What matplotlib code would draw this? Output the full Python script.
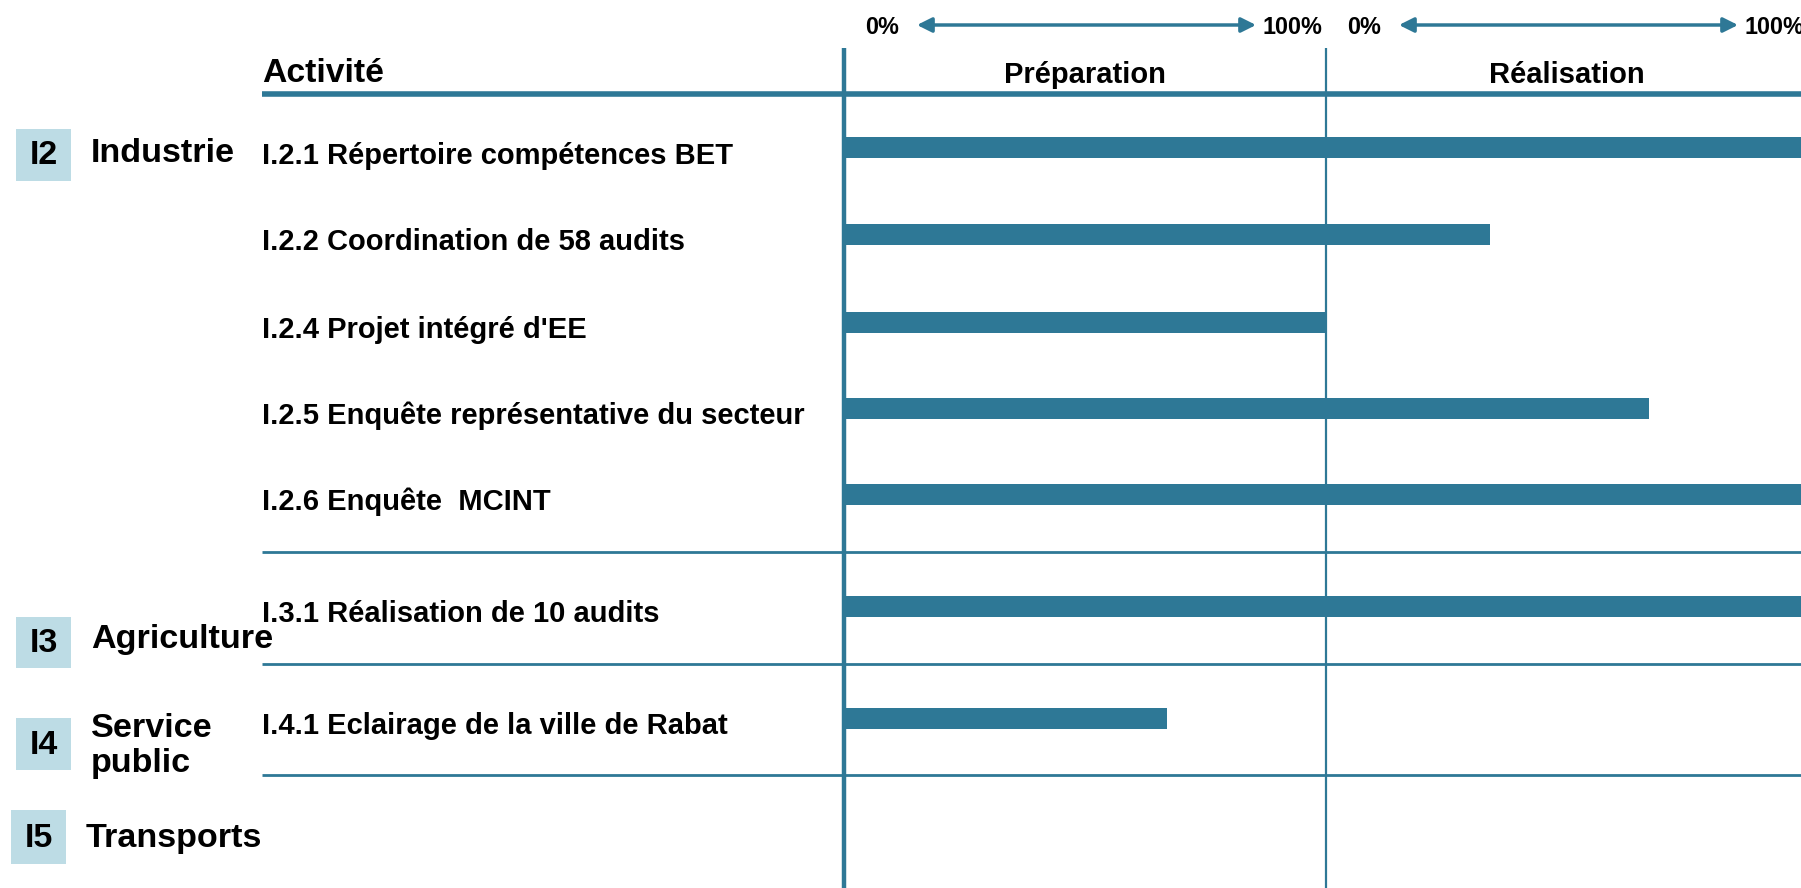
import matplotlib
matplotlib.use("Agg")
import matplotlib.pyplot as plt
from matplotlib.patches import Rectangle

# progress per activity: 0..1 = Préparation, 1..2 = Réalisation
activities = [
    "I.2.1 Répertoire compétences BET",
    "I.2.2 Coordination de 58 audits",
    "I.2.4 Projet intégré d'EE",
    "I.2.5 Enquête représentative du secteur",
    "I.2.6 Enquête  MCINT",
    "I.3.1 Réalisation de 10 audits",
    "I.4.1 Eclairage de la ville de Rabat",
]
progress = [2.0, 1.34, 1.0, 1.67, 2.0, 2.0, 0.67]

sector_codes = ["I2", "I3", "I4", "I5"]
sector_names = ["Industrie", "Agriculture", "Service\npublic", "Transports"]
phases = ["Préparation", "Réalisation"]

W, H = 1801, 888
BLUE = "#2E7896"
BOX = "#BDDCE5"
FONT = "Liberation Sans"

# layout (pixels)
x0, unit = 844, 482          # pixel of 0% and width of one phase
row_y = [148, 234, 322, 408, 494, 606, 718]
sep_y = [552, 664, 775]
sector_box_y = [(129, 181), (617, 668), (718, 770), (810, 864)]
sector_text_y = [154, 639, 746, 838]

fig = plt.figure(figsize=(W / 100, H / 100), dpi=100)
ax = fig.add_axes([0, 0, 1, 1])
ax.set_xlim(-x0 / unit, (W - x0) / unit)
ax.set_ylim(H, 0)
ax.axis("off")


def fx(px):
    return (px - x0) / unit


def ftxt(x, y, s, **kw):
    kw.setdefault("fontweight", "bold")
    kw.setdefault("family", FONT)
    kw.setdefault("color", "black")
    fig.text(x / W, 1 - y / H, s, **kw)


# bars
ax.barh(row_y, progress, left=0, height=21, color=BLUE, zorder=3)

# grid lines
ax.plot([0, 0], [48, H], color=BLUE, lw=3.2, zorder=4, solid_capstyle="butt")
ax.plot([1, 1], [48, H], color=BLUE, lw=1.6, zorder=2, solid_capstyle="butt")
ax.plot([fx(262), fx(W)], [94, 94], color=BLUE, lw=4, zorder=4, solid_capstyle="butt")
for y in sep_y:
    ax.plot([fx(262), fx(W)], [y, y], color=BLUE, lw=2, zorder=2, solid_capstyle="butt")

# header
ftxt(262, 73, "Activité", fontsize=24.3, va="center", ha="left")
for i, p in enumerate(phases):
    ftxt(x0 + unit * (i + 0.5), 75, p, fontsize=21, va="center", ha="center")

# 0% -> 100% arrows
for i in range(2):
    left = x0 + unit * i
    ftxt(left + 38, 27, "0%", fontsize=16.8, va="center", ha="center")
    ftxt(left + 448, 27, "100%", fontsize=16.8, va="center", ha="center")
    ax.annotate("", xy=(fx(left + 412), 25), xytext=(fx(left + 73), 25),
                arrowprops=dict(arrowstyle="<|-|>", color=BLUE, lw=2.5,
                                mutation_scale=22, shrinkA=0, shrinkB=0))

# activity labels
for y, name in zip(row_y, activities):
    ftxt(262, y + 8, name, fontsize=21, va="center", ha="left")

# sector boxes
for i, (code, name) in enumerate(zip(sector_codes, sector_names)):
    y1, y2 = sector_box_y[i]
    bx = 11 if code == "I5" else 16
    ax.add_patch(Rectangle((fx(bx), y1), 55 / unit, y2 - y1,
                           facecolor=BOX, edgecolor="none", zorder=1))
    ftxt(bx + 27.5, (y1 + y2) / 2 + 1, code, fontsize=24.5, va="center", ha="center")
    ftxt(bx + 75, sector_text_y[i], name, fontsize=24.6, va="center", ha="left",
         linespacing=1.2)

fig.savefig("out.png", dpi=100, facecolor="white")
